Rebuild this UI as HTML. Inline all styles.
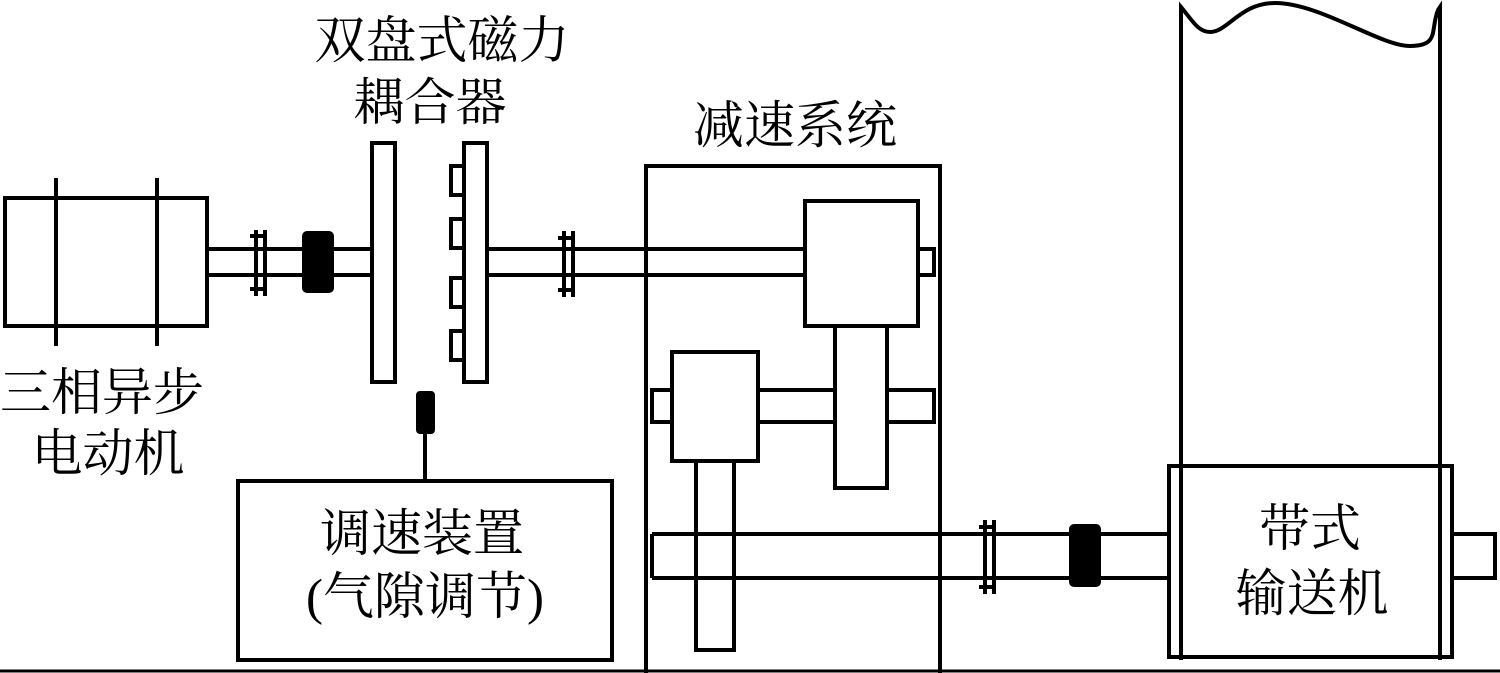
<!DOCTYPE html>
<html><head><meta charset="utf-8"><style>
html,body{margin:0;padding:0;background:#fff;}
svg{display:block}
text{font-family:"Liberation Serif","Noto Serif CJK SC",serif;fill:#000;}
</style></head><body>
<svg width="1500" height="673" viewBox="0 0 1500 673" xmlns="http://www.w3.org/2000/svg">
<g fill="none" stroke="#000" stroke-width="4">
<rect x="5" y="198" width="202" height="128" fill="#fff"/>
<line x1="56" y1="178" x2="56" y2="346"/>
<line x1="157" y1="178" x2="157" y2="346"/>
<line x1="207" y1="249" x2="371" y2="249"/>
<line x1="207" y1="275" x2="371" y2="275"/>
<line x1="256" y1="230" x2="256" y2="296"/>
<line x1="265" y1="230" x2="265" y2="296"/>
<line x1="250" y1="236" x2="265" y2="236"/>
<line x1="250" y1="289" x2="265" y2="289"/>
<rect x="304" y="233" width="28" height="58" fill="#000" rx="3"/>
<rect x="372" y="143" width="23" height="239" fill="#fff"/>
<rect x="464" y="143" width="23" height="239" fill="#fff"/>
<rect x="451" y="166" width="13" height="29"/>
<rect x="451" y="219" width="13" height="29"/>
<rect x="451" y="278" width="13" height="29"/>
<rect x="451" y="331" width="13" height="29"/>
<line x1="487" y1="249" x2="805" y2="249"/>
<line x1="487" y1="275" x2="805" y2="275"/>
<line x1="564" y1="231" x2="564" y2="297"/>
<line x1="573" y1="231" x2="573" y2="297"/>
<line x1="558" y1="238" x2="573" y2="238"/>
<line x1="558" y1="290" x2="573" y2="290"/>
<rect x="418" y="393" width="15" height="39" fill="#000" rx="2"/>
<line x1="425" y1="432" x2="425" y2="481"/>
<rect x="238" y="481" width="374" height="179"/>
<rect x="646" y="166" width="294" height="510"/>
<rect x="805" y="201" width="113" height="125" fill="#fff"/>
<rect x="918" y="249" width="16" height="26"/>
<rect x="652" y="390" width="282" height="32" fill="#fff"/>
<rect x="835" y="326" width="52" height="162" fill="#fff"/>
<rect x="672" y="352" width="86" height="109" fill="#fff"/>
<rect x="696" y="461" width="38" height="189" fill="#fff"/>
<line x1="652" y1="534" x2="1170" y2="534"/>
<line x1="652" y1="578" x2="1170" y2="578"/>
<line x1="652" y1="534" x2="652" y2="578"/>
<line x1="985" y1="520" x2="985" y2="594"/>
<line x1="994" y1="520" x2="994" y2="594"/>
<line x1="979" y1="527" x2="994" y2="527"/>
<line x1="979" y1="587" x2="994" y2="587"/>
<rect x="1071" y="526" width="28" height="59" fill="#000" rx="3"/>
<rect x="1169" y="466" width="283" height="191" fill="#fff"/>
<path d="M1181 660 L1181 7 C1192 20,1198 32,1210 32 C1228 32,1240 3,1275 3 C1320 3,1380 46,1410 46 C1440 46,1430 30,1438 10 L1440 7 L1440 660"/>
<rect x="1452" y="534" width="43" height="44"/>
<line x1="0" y1="671" x2="1500" y2="671" stroke-width="3"/>
</g>
<g fill="none" stroke="#000" stroke-width="4">
<line x1="696" y1="461" x2="696" y2="534"/>
<line x1="734" y1="461" x2="734" y2="534"/>
<line x1="696" y1="578" x2="696" y2="650"/>
<line x1="734" y1="578" x2="734" y2="650"/>
</g>
<g font-size="51" text-anchor="middle">
<text x="442" y="58">双盘式磁力</text>
<text x="430" y="120">耦合器</text>
<text x="795" y="143">减速系统</text>
<text x="102" y="410">三相异步</text>
<text x="108" y="471">电动机</text>
<text x="422" y="551">调速装置</text>
<text x="425" y="614">(气隙调节)</text>
<text x="1310" y="546">带式</text>
<text x="1312" y="611">输送机</text>
</g>
</svg>
</body></html>
